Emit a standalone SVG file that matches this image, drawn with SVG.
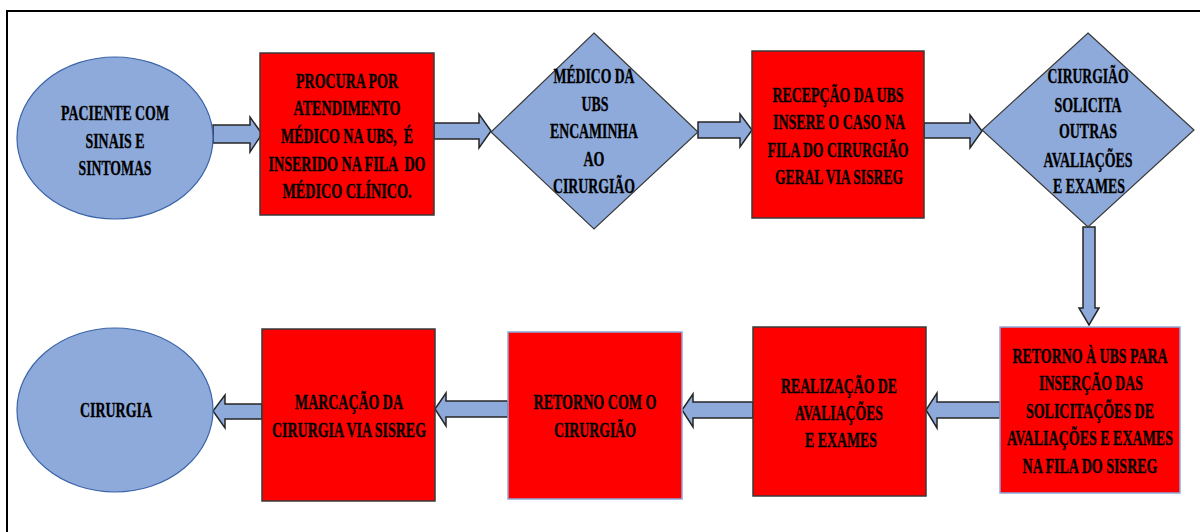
<svg xmlns="http://www.w3.org/2000/svg" width="1200" height="532" viewBox="0 0 1200 532">
<style>
.oval{fill:#8EAADB;stroke:#3B64A8;stroke-width:1.2}
.dia{fill:#8EAADB;stroke:#3A3A3A;stroke-width:1.2}
.box{fill:#FF0000;stroke:#3A3A3A;stroke-width:1.5}
.boxb{fill:#FF0000;stroke:#8EA9DB;stroke-width:1.5}
.arr{fill:#8EAADB;stroke:#262626;stroke-width:1.5;stroke-linejoin:miter}
text{font-family:"Liberation Serif","Times New Roman",serif;font-weight:bold;font-size:21px;fill:#000;stroke:#000;stroke-width:0.35;text-anchor:middle}
</style>
<rect width="1200" height="532" fill="#fff"/>
<path d="M7,532 V11 H1200" fill="none" stroke="#000" stroke-width="2"/>
<g id="connectors">
<polygon class="arr" points="213,125 250,125 250,117 262,134 250,152 250,143 213,143"/>
<polygon class="arr" points="434,123 479,123 479,114 491,131 479,148 479,139 434,139"/>
<polygon class="arr" points="698,122 740,122 740,114 752,130 740,147 740,138 698,138"/>
<polygon class="arr" points="924,123 970,123 970,115 982,131 970,148 970,138 924,138"/>
<polygon class="arr" points="1083,227 1095,227 1095,308 1099,308 1089,325 1079,308 1083,308"/>
<polygon class="arr" points="1000,402 937,402 937,393 926,410 937,428 937,418 1000,418"/>
<polygon class="arr" points="753,402 693,402 693,394 682,410 693,427 693,418 753,418"/>
<polygon class="arr" points="508,401 446,401 446,393 435,409 446,426 446,417 508,417"/>
<polygon class="arr" points="262,404 225,404 225,395 213,411 225,428 225,419 262,419"/>
</g>
<g id="n1">
<ellipse class="oval" cx="115" cy="138" rx="98" ry="81"/>
<text transform="matrix(0.66 0 0 1 115 0)" x="0" y="120" textLength="163.6" lengthAdjust="spacingAndGlyphs">PACIENTE COM</text>
<text transform="matrix(0.66 0 0 1 115 0)" x="0" y="148" textLength="89.4" lengthAdjust="spacingAndGlyphs">SINAIS E</text>
<text transform="matrix(0.66 0 0 1 115 0)" x="0" y="175" textLength="110.6" lengthAdjust="spacingAndGlyphs">SINTOMAS</text>
</g>
<g id="n2">
<rect class="box" x="260" y="53" width="174" height="162"/>
<text transform="matrix(0.66 0 0 1 347 0)" x="0" y="88" textLength="154.5" lengthAdjust="spacingAndGlyphs">PROCURA POR</text>
<text transform="matrix(0.66 0 0 1 347 0)" x="0" y="115" textLength="162.1" lengthAdjust="spacingAndGlyphs">ATENDIMENTO</text>
<text transform="matrix(0.66 0 0 1 347 0)" x="0" y="143" textLength="200" lengthAdjust="spacingAndGlyphs" xml:space="preserve">MÉDICO NA UBS,  É</text>
<text transform="matrix(0.66 0 0 1 347 0)" x="0" y="171" textLength="237.9" lengthAdjust="spacingAndGlyphs" xml:space="preserve">INSERIDO NA FILA  DO</text>
<text transform="matrix(0.66 0 0 1 347 0)" x="0" y="198" textLength="195.5" lengthAdjust="spacingAndGlyphs">MÉDICO CLÍNICO.</text>
</g>
<g id="n3">
<polygon class="dia" points="594,33 698,132 594,229 491,132"/>
<text transform="matrix(0.66 0 0 1 594 0)" x="0" y="83" textLength="122.7" lengthAdjust="spacingAndGlyphs">MÉDICO DA</text>
<text transform="matrix(0.66 0 0 1 595 0)" x="0" y="111" textLength="40.9" lengthAdjust="spacingAndGlyphs">UBS</text>
<text transform="matrix(0.66 0 0 1 594 0)" x="0" y="138" textLength="133.3" lengthAdjust="spacingAndGlyphs">ENCAMINHA</text>
<text transform="matrix(0.66 0 0 1 594 0)" x="0" y="166" textLength="31.8" lengthAdjust="spacingAndGlyphs">AO</text>
<text transform="matrix(0.66 0 0 1 594 0)" x="0" y="193" textLength="124.2" lengthAdjust="spacingAndGlyphs">CIRURGIÃO</text>
</g>
<g id="n4">
<rect class="box" x="752" y="51" width="172" height="167"/>
<text transform="matrix(0.66 0 0 1 838 0)" x="0" y="102" textLength="198.5" lengthAdjust="spacingAndGlyphs">RECEPÇÃO DA UBS</text>
<text transform="matrix(0.66 0 0 1 839 0)" x="0" y="129" textLength="200" lengthAdjust="spacingAndGlyphs">INSERE O CASO NA</text>
<text transform="matrix(0.66 0 0 1 838 0)" x="0" y="157" textLength="213.6" lengthAdjust="spacingAndGlyphs">FILA DO CIRURGIÃO</text>
<text transform="matrix(0.66 0 0 1 839 0)" x="0" y="184" textLength="193.9" lengthAdjust="spacingAndGlyphs">GERAL VIA SISREG</text>
</g>
<g id="n5">
<polygon class="dia" points="1088,33 1194,130 1088,227 982,130"/>
<text transform="matrix(0.66 0 0 1 1088 0)" x="0" y="83" textLength="122.7" lengthAdjust="spacingAndGlyphs">CIRURGIÃO</text>
<text transform="matrix(0.66 0 0 1 1088 0)" x="0" y="112" textLength="101.5" lengthAdjust="spacingAndGlyphs">SOLICITA</text>
<text transform="matrix(0.66 0 0 1 1088 0)" x="0" y="138" textLength="87.9" lengthAdjust="spacingAndGlyphs">OUTRAS</text>
<text transform="matrix(0.66 0 0 1 1088 0)" x="0" y="167" textLength="134.8" lengthAdjust="spacingAndGlyphs">AVALIAÇÕES</text>
<text transform="matrix(0.66 0 0 1 1089 0)" x="0" y="193" textLength="109.1" lengthAdjust="spacingAndGlyphs">E EXAMES</text>
</g>
<g id="n6">
<rect class="boxb" x="1000" y="327" width="180" height="166"/>
<text transform="matrix(0.66 0 0 1 1090 0)" x="0" y="363" textLength="234.8" lengthAdjust="spacingAndGlyphs">RETORNO À UBS PARA</text>
<text transform="matrix(0.66 0 0 1 1091 0)" x="0" y="390" textLength="157.6" lengthAdjust="spacingAndGlyphs">INSERÇÃO DAS</text>
<text transform="matrix(0.66 0 0 1 1090 0)" x="0" y="418" textLength="193.9" lengthAdjust="spacingAndGlyphs">SOLICITAÇÕES DE</text>
<text transform="matrix(0.66 0 0 1 1090 0)" x="0" y="445" textLength="251.5" lengthAdjust="spacingAndGlyphs">AVALIAÇÕES E EXAMES</text>
<text transform="matrix(0.66 0 0 1 1090 0)" x="0" y="473" textLength="204.5" lengthAdjust="spacingAndGlyphs">NA FILA DO SISREG</text>
</g>
<g id="n7">
<rect class="box" x="753" y="327" width="173" height="169"/>
<text transform="matrix(0.66 0 0 1 839 0)" x="0" y="393" textLength="175.8" lengthAdjust="spacingAndGlyphs">REALIZAÇÃO DE</text>
<text transform="matrix(0.66 0 0 1 839 0)" x="0" y="420" textLength="133.3" lengthAdjust="spacingAndGlyphs">AVALIAÇÕES</text>
<text transform="matrix(0.66 0 0 1 841 0)" x="0" y="447" textLength="109.1" lengthAdjust="spacingAndGlyphs">E EXAMES</text>
</g>
<g id="n8">
<rect class="boxb" x="508" y="332" width="174" height="167"/>
<text transform="matrix(0.66 0 0 1 595 0)" x="0" y="409" textLength="186.4" lengthAdjust="spacingAndGlyphs">RETORNO COM O</text>
<text transform="matrix(0.66 0 0 1 595 0)" x="0" y="437" textLength="124.2" lengthAdjust="spacingAndGlyphs">CIRURGIÃO</text>
</g>
<g id="n9">
<rect class="box" x="262" y="329" width="173" height="172"/>
<text transform="matrix(0.66 0 0 1 349 0)" x="0" y="409" textLength="163.6" lengthAdjust="spacingAndGlyphs">MARCAÇÃO DA</text>
<text transform="matrix(0.66 0 0 1 349 0)" x="0" y="437" textLength="233.3" lengthAdjust="spacingAndGlyphs">CIRURGIA VIA SISREG</text>
</g>
<g id="n10">
<ellipse class="oval" cx="115" cy="410" rx="98" ry="82"/>
<text transform="matrix(0.66 0 0 1 116 0)" x="0" y="417" textLength="109.1" lengthAdjust="spacingAndGlyphs">CIRURGIA</text>
</g>
</svg>
